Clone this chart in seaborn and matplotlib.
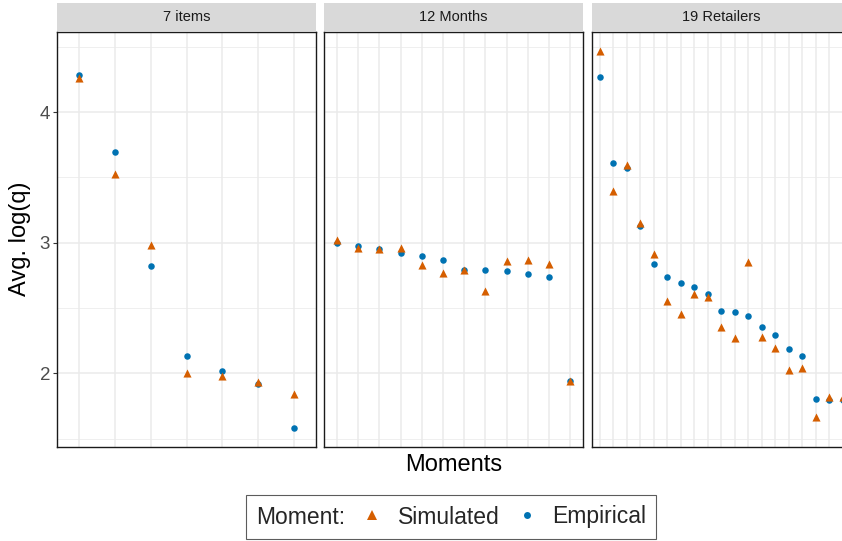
import numpy as np
import pandas as pd
import matplotlib
matplotlib.use("Agg")
import matplotlib.pyplot as plt
import seaborn as sns
from matplotlib.lines import Line2D
from matplotlib.patches import Rectangle
from matplotlib.ticker import FixedLocator, NullFormatter

# ---------------- data ----------------
panels = ["7 items", "12 Months", "19 Retailers"]
moments = ["Simulated", "Empirical"]

items_emp = [4.285, 3.695, 2.824, 2.135, 2.018, 1.918, 1.580]
items_sim = [4.262, 3.522, 2.980, 2.000, 1.980, 1.936, 1.840]

months_emp = [2.995, 2.975, 2.950, 2.924, 2.900, 2.865, 2.794, 2.789, 2.779, 2.763, 2.738, 1.944]
months_sim = [3.018, 2.960, 2.950, 2.962, 2.827, 2.768, 2.789, 2.631, 2.860, 2.868, 2.840, 1.944]

retail_emp = [4.267, 3.608, 3.573, 3.125, 2.835, 2.738, 2.692, 2.659, 2.608, 2.478,
              2.468, 2.435, 2.351, 2.290, 2.186, 2.135, 1.799, 1.794, 1.794]
retail_sim = [4.471, 3.399, 3.593, 3.153, 2.911, 2.550, 2.450, 2.606, 2.580, 2.356,
              2.270, 2.850, 2.275, 2.193, 2.025, 2.043, 1.667, 1.817, 1.817]

yticks = [2, 3, 4]
ylabel = "Avg. log(q)"
xlabel = "Moments"
legend_title = "Moment:"

series = {
    "7 items": (items_sim, items_emp),
    "12 Months": (months_sim, months_emp),
    "19 Retailers": (retail_sim, retail_emp),
}

rows = []
for p in panels:
    sim, emp = series[p]
    for i, v in enumerate(emp):
        rows.append({"panel": p, "pos": i, "moment": "Empirical", "value": v})
    for i, v in enumerate(sim):
        rows.append({"panel": p, "pos": i, "moment": "Simulated", "value": v})
df = pd.DataFrame(rows)

colors = {"Simulated": "#D55E00", "Empirical": "#0072B2"}
markers = {"Simulated": "^", "Empirical": "o"}
sizes = {"Simulated": 34, "Empirical": 22}

# ---------------- style ----------------
sns.set_theme(style="white")
plt.rcParams["font.family"] = ["Liberation Sans", "DejaVu Sans"]

W, H = 842, 541
fig = plt.figure(figsize=(W / 100, H / 100), dpi=100)

panel_px = [(57, 316), (324.3, 583), (591.7, 851)]
top_px, bot_px = 31.7, 447
ymin, ymax = 1.435, 4.615
grid_c = "#EBEBEB"

axes = []
for k, p in enumerate(panels):
    l, r = panel_px[k]
    ax = fig.add_axes([l / W, 1 - bot_px / H, (r - l) / W, (bot_px - top_px) / H])
    axes.append(ax)
    sub = df[df.panel == p]
    n = sub.pos.max() + 1
    for m in ["Empirical", "Simulated"]:
        d = sub[sub.moment == m]
        sns.scatterplot(data=d, x="pos", y="value", color=colors[m], marker=markers[m],
                        s=sizes[m], linewidth=0, ax=ax, legend=False, zorder=3)
    ax.set_xlim(-0.6, n - 0.4)
    ax.set_ylim(ymin, ymax)
    ax.xaxis.set_major_locator(FixedLocator(list(range(n))))
    ax.yaxis.set_major_locator(FixedLocator(yticks))
    ax.yaxis.set_minor_locator(FixedLocator([1.5, 2.5, 3.5, 4.5]))
    ax.grid(which="major", axis="both", color=grid_c, lw=1.1, zorder=0)
    ax.grid(which="minor", axis="y", color=grid_c, lw=0.55, zorder=0)
    ax.set_axisbelow(True)
    ax.set_xlabel("")
    ax.set_ylabel("")
    ax.tick_params(axis="x", length=0, labelbottom=False)
    ax.tick_params(axis="y", which="minor", length=0)
    if k == 0:
        ax.tick_params(axis="y", which="major", length=3, width=0.8, color="#333333",
                       labelsize=13.5, labelcolor="#4D4D4D", pad=2, left=True)
    else:
        ax.tick_params(axis="y", which="major", length=0, labelleft=False)
    for s in ax.spines.values():
        s.set_color("#1A1A1A")
        s.set_linewidth(1.0)
        s.set_zorder(5)
    # strip
    strip_h = (top_px - 3.3) / (bot_px - top_px)
    ax.add_patch(Rectangle((0, 1.0015), 1, strip_h, transform=ax.transAxes,
                           facecolor="#D9D9D9", edgecolor="none", clip_on=False, zorder=1))
    ax.text(0.5, 1 + strip_h / 2 + 0.002, p, transform=ax.transAxes, ha="center", va="center",
            fontsize=10.5, color="#1A1A1A")

fig.text(20 / W, 1 - 239 / H, ylabel, rotation=90, ha="center", va="center",
         fontsize=17, color="black")
fig.text(453.5 / W, 1 - 465 / H, xlabel, ha="center", va="center",
         fontsize=17, color="black")

handles = [Line2D([], [], linestyle="none", marker=markers[m], color=colors[m],
                  markersize=6.5 if m == "Simulated" else 5, markeredgewidth=0)
           for m in moments]
leg = fig.legend(handles, moments, title=legend_title, loc="center",
                 bbox_to_anchor=(451 / W, 1 - 517 / H), ncol=2, frameon=True,
                 fancybox=False, edgecolor="#333333", fontsize=16.5, title_fontsize=16.5,
                 handlelength=1.2, handletextpad=0.5, columnspacing=0.6, borderpad=0.45,
                 borderaxespad=0)
leg.get_frame().set_linewidth(0.8)
# put title on the left of entries (horizontal ggplot-style legend)
try:
    vbox = leg.get_children()[0]
    title_box = vbox.get_children()[0]
    hbox = vbox.get_children()[1]
    vbox._children = [hbox]
    hbox._children = [title_box] + hbox.get_children()
    hbox.align = "center"
except Exception:
    pass

fig.savefig("out.png", dpi=100)
